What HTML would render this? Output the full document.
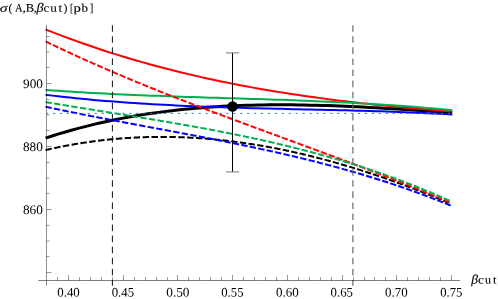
<!DOCTYPE html>
<html><head><meta charset="utf-8"><title>plot</title>
<style>
html,body{margin:0;padding:0;background:#fff;}
body{width:498px;height:299px;overflow:hidden;font-family:"Liberation Serif",serif;}
svg{display:block;}
text{font-family:"Liberation Serif",serif;fill:#000;}
</style></head><body>
<svg width="498" height="299" viewBox="0 0 498 299">
<rect width="498" height="299" fill="#fff"/>
<!-- curves -->
<g fill="none" stroke-linejoin="round">
<path d="M47.0,137.64 L52.9,135.76 L58.7,133.94 L64.6,132.19 L70.4,130.51 L76.3,128.89 L82.1,127.34 L88.0,125.84 L93.8,124.41 L99.7,123.04 L105.5,121.73 L111.4,120.47 L117.2,119.27 L123.1,118.13 L128.9,117.04 L134.8,116.01 L140.6,115.03 L146.5,114.10 L152.3,113.22 L158.2,112.40 L164.0,111.62 L169.9,110.89 L175.7,110.20 L181.6,109.57 L187.4,108.97 L193.3,108.43 L199.1,107.92 L205.0,107.46 L210.8,107.03 L216.7,106.65 L222.5,106.31 L228.4,106.00 L234.2,105.73 L240.1,105.50 L245.9,105.30 L251.8,105.14 L257.6,105.00 L263.5,104.90 L269.3,104.84 L275.2,104.80 L281.0,104.79 L286.9,104.80 L292.7,104.85 L298.6,104.92 L304.4,105.02 L310.3,105.13 L316.1,105.28 L322.0,105.44 L327.8,105.62 L333.7,105.83 L339.5,106.05 L345.4,106.29 L351.2,106.55 L357.1,106.82 L362.9,107.11 L368.8,107.41 L374.6,107.73 L380.5,108.06 L386.3,108.39 L392.2,108.74 L398.0,109.10 L403.9,109.46 L409.7,109.83 L415.6,110.21 L421.4,110.59 L427.3,110.97 L433.1,111.36 L439.0,111.75 L444.8,112.14 L450.7,112.53" stroke="#000" stroke-width="3" stroke-linecap="square"/>
<path d="M46.5,29.86 L52.4,32.16 L58.2,34.42 L64.1,36.63 L70.0,38.81 L75.8,40.93 L81.7,43.02 L87.6,45.06 L93.4,47.06 L99.3,49.02 L105.2,50.94 L111.0,52.83 L116.9,54.67 L122.8,56.47 L128.6,58.23 L134.5,59.96 L140.4,61.65 L146.2,63.30 L152.1,64.92 L158.0,66.50 L163.8,68.04 L169.7,69.56 L175.6,71.03 L181.4,72.48 L187.3,73.89 L193.2,75.26 L199.0,76.61 L204.9,77.92 L210.8,79.20 L216.6,80.46 L222.5,81.68 L228.4,82.87 L234.2,84.04 L240.1,85.17 L246.0,86.28 L251.8,87.36 L257.7,88.41 L263.6,89.44 L269.4,90.44 L275.3,91.42 L281.2,92.37 L287.0,93.30 L292.9,94.20 L298.8,95.08 L304.6,95.94 L310.5,96.77 L316.4,97.58 L322.2,98.38 L328.1,99.15 L334.0,99.90 L339.8,100.63 L345.7,101.34 L351.6,102.04 L357.4,102.71 L363.3,103.37 L369.2,104.01 L375.0,104.64 L380.9,105.25 L386.8,105.84 L392.6,106.42 L398.5,106.99 L404.4,107.54 L410.2,108.07 L416.1,108.60 L422.0,109.11 L427.8,109.61 L433.7,110.10 L439.6,110.58 L445.4,111.05 L451.3,111.51" stroke="#ff0000" stroke-width="2" stroke-linecap="square"/>
<path d="M46.5,90.01 L52.4,90.43 L58.2,90.84 L64.1,91.23 L70.0,91.61 L75.8,91.97 L81.7,92.32 L87.6,92.66 L93.4,92.98 L99.3,93.29 L105.2,93.59 L111.0,93.88 L116.9,94.16 L122.8,94.43 L128.6,94.69 L134.5,94.94 L140.4,95.18 L146.2,95.41 L152.1,95.64 L158.0,95.86 L163.8,96.07 L169.7,96.28 L175.6,96.48 L181.4,96.68 L187.3,96.88 L193.2,97.07 L199.0,97.26 L204.9,97.44 L210.8,97.63 L216.6,97.81 L222.5,97.99 L228.4,98.17 L234.2,98.35 L240.1,98.53 L246.0,98.72 L251.8,98.90 L257.7,99.09 L263.6,99.28 L269.4,99.47 L275.3,99.67 L281.2,99.87 L287.0,100.08 L292.9,100.29 L298.8,100.51 L304.6,100.74 L310.5,100.97 L316.4,101.21 L322.2,101.46 L328.1,101.72 L334.0,101.98 L339.8,102.26 L345.7,102.55 L351.6,102.84 L357.4,103.15 L363.3,103.47 L369.2,103.81 L375.0,104.15 L380.9,104.52 L386.8,104.89 L392.6,105.28 L398.5,105.68 L404.4,106.10 L410.2,106.54 L416.1,106.99 L422.0,107.46 L427.8,107.95 L433.7,108.46 L439.6,108.98 L445.4,109.53 L451.3,110.09" stroke="#00b050" stroke-width="2" stroke-linecap="square"/>
<path d="M46.5,94.92 L52.4,95.63 L58.2,96.31 L64.1,96.97 L70.0,97.60 L75.8,98.21 L81.7,98.79 L87.6,99.35 L93.4,99.89 L99.3,100.41 L105.2,100.90 L111.0,101.37 L116.9,101.83 L122.8,102.26 L128.6,102.68 L134.5,103.08 L140.4,103.46 L146.2,103.82 L152.1,104.16 L158.0,104.49 L163.8,104.81 L169.7,105.11 L175.6,105.40 L181.4,105.67 L187.3,105.93 L193.2,106.18 L199.0,106.42 L204.9,106.64 L210.8,106.86 L216.6,107.06 L222.5,107.26 L228.4,107.45 L234.2,107.63 L240.1,107.80 L246.0,107.97 L251.8,108.13 L257.7,108.28 L263.6,108.43 L269.4,108.58 L275.3,108.72 L281.2,108.86 L287.0,108.99 L292.9,109.13 L298.8,109.26 L304.6,109.40 L310.5,109.53 L316.4,109.66 L322.2,109.80 L328.1,109.93 L334.0,110.07 L339.8,110.22 L345.7,110.36 L351.6,110.51 L357.4,110.67 L363.3,110.83 L369.2,111.00 L375.0,111.17 L380.9,111.35 L386.8,111.54 L392.6,111.74 L398.5,111.95 L404.4,112.16 L410.2,112.39 L416.1,112.63 L422.0,112.88 L427.8,113.14 L433.7,113.42 L439.6,113.70 L445.4,114.01 L451.3,114.33" stroke="#0000ff" stroke-width="2" stroke-linecap="square"/>
<path d="M46.5,149.83 L47.4,149.63 L48.2,149.44 L49.1,149.24 L50.0,149.05 L50.8,148.86 M55.1,147.92 L56.0,147.73 L56.9,147.55 L57.7,147.37 L58.6,147.19 L59.5,147.02 M63.8,146.15 L64.7,145.99 L65.6,145.82 L66.5,145.65 L67.3,145.49 L68.2,145.33 M72.6,144.54 L73.5,144.39 L74.3,144.24 L75.2,144.09 L76.1,143.94 L77.0,143.79 M81.4,143.08 L82.2,142.94 L83.1,142.81 L84.0,142.67 L84.9,142.54 L85.8,142.41 M90.2,141.78 L91.1,141.65 L92.0,141.53 L92.8,141.41 L93.7,141.30 L94.6,141.18 M99.0,140.63 L99.9,140.52 L100.8,140.41 L101.7,140.31 L102.6,140.21 L103.5,140.11 M107.9,139.63 L108.8,139.54 L109.7,139.45 L110.6,139.36 L111.5,139.28 L112.4,139.19 M116.8,138.79 L117.7,138.72 L118.6,138.64 L119.5,138.57 L120.4,138.50 L121.3,138.43 M125.7,138.11 L126.6,138.05 L127.5,137.99 L128.4,137.94 L129.3,137.88 L130.2,137.83 M134.7,137.58 L135.5,137.54 L136.4,137.49 L137.3,137.45 L138.2,137.41 L139.1,137.37 M143.6,137.21 L144.5,137.18 L145.4,137.15 L146.3,137.12 L147.2,137.10 L148.1,137.07 M152.5,136.98 L153.4,136.97 L154.3,136.95 L155.2,136.94 L156.1,136.93 L157.0,136.93 M161.4,136.91 L162.3,136.91 L163.2,136.91 L164.1,136.91 L165.0,136.92 L165.9,136.92 M170.4,136.98 L171.2,137.00 L172.1,137.01 L173.0,137.03 L173.9,137.05 L174.8,137.07 M179.3,137.20 L180.1,137.23 L181.0,137.26 L181.9,137.29 L182.8,137.32 L183.7,137.36 M188.1,137.56 L189.0,137.60 L189.9,137.65 L190.8,137.69 L191.7,137.74 L192.6,137.79 M197.0,138.06 L197.9,138.11 L198.8,138.17 L199.7,138.23 L200.5,138.30 L201.4,138.36 M205.8,138.69 L206.7,138.76 L207.6,138.84 L208.5,138.91 L209.4,138.98 L210.2,139.06 M214.6,139.46 L215.5,139.55 L216.4,139.63 L217.3,139.72 L218.2,139.80 L219.0,139.89 M223.4,140.36 L224.3,140.46 L225.2,140.55 L226.0,140.65 L226.9,140.75 L227.8,140.85 M232.2,141.38 L233.0,141.49 L233.9,141.60 L234.8,141.71 L235.6,141.83 L236.5,141.94 M240.9,142.53 L241.7,142.65 L242.6,142.77 L243.5,142.89 L244.3,143.02 L245.2,143.14 M249.5,143.79 L250.4,143.92 L251.3,144.06 L252.1,144.19 L253.0,144.33 L253.8,144.47 M258.2,145.17 L259.0,145.31 L259.9,145.46 L260.7,145.61 L261.6,145.75 L262.4,145.90 M266.7,146.66 L267.6,146.81 L268.4,146.97 L269.3,147.13 L270.2,147.29 L271.0,147.44 M275.3,148.26 L276.1,148.42 L277.0,148.59 L277.8,148.76 L278.7,148.92 L279.5,149.09 M283.8,149.96 L284.6,150.13 L285.5,150.31 L286.3,150.49 L287.2,150.67 L288.0,150.85 M292.2,151.76 L293.1,151.94 L293.9,152.13 L294.7,152.32 L295.6,152.51 L296.4,152.70 M300.6,153.66 L301.5,153.85 L302.3,154.05 L303.1,154.24 L304.0,154.44 L304.8,154.64 M309.0,155.65 L309.8,155.85 L310.6,156.06 L311.5,156.26 L312.3,156.47 L313.1,156.68 M317.3,157.73 L318.1,157.94 L318.9,158.16 L319.8,158.37 L320.6,158.59 L321.4,158.80 M325.6,159.90 L326.4,160.12 L327.2,160.34 L328.0,160.56 L328.8,160.79 L329.7,161.01 M333.8,162.15 L334.6,162.38 L335.4,162.61 L336.2,162.84 L337.0,163.07 L337.9,163.30 M341.9,164.48 L342.8,164.72 L343.6,164.95 L344.4,165.19 L345.2,165.43 L346.0,165.67 M350.1,166.89 L350.9,167.13 L351.7,167.38 L352.5,167.63 L353.3,167.87 L354.1,168.12 M358.1,169.37 L358.9,169.62 L359.7,169.88 L360.5,170.13 L361.3,170.38 L362.2,170.64 M366.2,171.93 L367.0,172.18 L367.8,172.44 L368.6,172.71 L369.4,172.97 L370.2,173.23 M374.1,174.55 L374.9,174.82 L375.7,175.08 L376.5,175.35 L377.3,175.62 L378.1,175.89 M382.1,177.24 L382.9,177.51 L383.7,177.78 L384.5,178.06 L385.2,178.33 L386.0,178.61 M390.0,179.99 L390.8,180.27 L391.5,180.55 L392.3,180.83 L393.1,181.11 L393.9,181.39 M397.8,182.81 L398.6,183.09 L399.4,183.38 L400.2,183.66 L400.9,183.95 L401.7,184.24 M405.6,185.68 L406.4,185.97 L407.2,186.26 L408.0,186.55 L408.7,186.85 L409.5,187.14 M413.4,188.61 L414.2,188.91 L414.9,189.20 L415.7,189.50 L416.5,189.80 L417.2,190.10 M421.1,191.60 L421.9,191.90 L422.6,192.20 L423.4,192.50 L424.2,192.81 L424.9,193.11 M428.8,194.63 L429.5,194.94 L430.3,195.25 L431.1,195.56 L431.8,195.86 L432.6,196.17 M436.4,197.72 L437.2,198.03 L437.9,198.35 L438.7,198.66 L439.5,198.97 L440.2,199.29 M444.0,200.86 L444.8,201.18 L445.5,201.49 L446.3,201.81 L447.0,202.13 L447.8,202.45" stroke="#000" stroke-width="2" stroke-linecap="square"/>
<path d="M46.5,41.85 L47.2,42.20 L48.0,42.56 L48.7,42.91 L49.4,43.26 L50.1,43.61 M53.8,45.35 L54.5,45.70 L55.2,46.04 L56.0,46.39 L56.7,46.74 L57.4,47.08 M61.1,48.81 L61.8,49.15 L62.6,49.50 L63.3,49.84 L64.0,50.18 L64.8,50.53 M68.4,52.24 L69.2,52.58 L69.9,52.92 L70.6,53.26 L71.4,53.60 L72.1,53.94 M75.8,55.63 L76.5,55.96 L77.3,56.30 L78.0,56.64 L78.8,56.97 L79.5,57.31 M83.2,58.99 L84.0,59.32 L84.7,59.65 L85.4,59.99 L86.2,60.32 L86.9,60.65 M90.6,62.31 L91.4,62.64 L92.1,62.97 L92.9,63.30 L93.6,63.63 L94.4,63.96 M98.1,65.60 L98.9,65.93 L99.6,66.26 L100.3,66.59 L101.1,66.91 L101.8,67.24 M105.6,68.87 L106.3,69.19 L107.1,69.51 L107.8,69.84 L108.6,70.16 L109.3,70.49 M113.1,72.10 L113.9,72.42 L114.6,72.74 L115.4,73.06 L116.1,73.38 L116.9,73.70 M120.7,75.30 L121.4,75.62 L122.2,75.94 L122.9,76.26 L123.7,76.57 L124.4,76.89 M128.2,78.47 L129.0,78.79 L129.7,79.11 L130.5,79.42 L131.3,79.74 L132.0,80.05 M135.8,81.62 L136.6,81.93 L137.3,82.25 L138.1,82.56 L138.8,82.87 L139.6,83.18 M143.4,84.74 L144.2,85.05 L144.9,85.36 L145.7,85.67 L146.5,85.98 L147.2,86.29 M151.0,87.83 L151.8,88.14 L152.6,88.45 L153.3,88.76 L154.1,89.06 L154.9,89.37 M158.7,90.90 L159.5,91.21 L160.2,91.52 L161.0,91.82 L161.8,92.13 L162.5,92.43 M166.4,93.95 L167.1,94.25 L167.9,94.56 L168.7,94.86 L169.4,95.16 L170.2,95.47 M174.1,96.98 L174.8,97.28 L175.6,97.58 L176.4,97.88 L177.1,98.18 L177.9,98.48 M181.8,99.98 L182.5,100.28 L183.3,100.58 L184.1,100.88 L184.8,101.18 L185.6,101.48 M189.5,102.97 L190.3,103.26 L191.0,103.56 L191.8,103.86 L192.6,104.16 L193.3,104.45 M197.2,105.93 L198.0,106.23 L198.8,106.53 L199.5,106.82 L200.3,107.12 L201.1,107.41 M205.0,108.88 L205.7,109.18 L206.5,109.47 L207.3,109.77 L208.1,110.06 L208.8,110.35 M212.7,111.82 L213.5,112.11 L214.3,112.41 L215.0,112.70 L215.8,112.99 L216.6,113.28 M220.5,114.74 L221.3,115.03 L222.0,115.33 L222.8,115.62 L223.6,115.91 L224.4,116.20 M228.3,117.65 L229.0,117.94 L229.8,118.23 L230.6,118.52 L231.4,118.81 L232.1,119.10 M236.0,120.55 L236.8,120.84 L237.6,121.13 L238.4,121.42 L239.2,121.71 L239.9,122.00 M243.8,123.44 L244.6,123.73 L245.4,124.02 L246.2,124.31 L247.0,124.60 L247.7,124.88 M251.6,126.33 L252.4,126.61 L253.2,126.90 L254.0,127.19 L254.7,127.48 L255.5,127.76 M259.4,129.20 L260.2,129.49 L261.0,129.78 L261.8,130.06 L262.6,130.35 L263.3,130.64 M267.2,132.07 L268.0,132.36 L268.8,132.65 L269.6,132.93 L270.4,133.22 L271.1,133.51 M275.0,134.94 L275.8,135.23 L276.6,135.52 L277.4,135.80 L278.2,136.09 L278.9,136.38 M282.9,137.81 L283.6,138.10 L284.4,138.38 L285.2,138.67 L286.0,138.96 L286.8,139.24 M290.7,140.68 L291.4,140.96 L292.2,141.25 L293.0,141.54 L293.8,141.82 L294.6,142.11 M298.5,143.55 L299.2,143.83 L300.0,144.12 L300.8,144.41 L301.6,144.69 L302.4,144.98 M306.3,146.42 L307.1,146.71 L307.8,146.99 L308.6,147.28 L309.4,147.57 L310.2,147.86 M314.1,149.30 L314.9,149.58 L315.6,149.87 L316.4,150.16 L317.2,150.45 L318.0,150.74 M321.9,152.18 L322.7,152.47 L323.4,152.76 L324.2,153.05 L325.0,153.34 L325.8,153.62 M329.7,155.07 L330.4,155.36 L331.2,155.65 L332.0,155.94 L332.8,156.23 L333.6,156.52 M337.4,157.97 L338.2,158.26 L339.0,158.55 L339.8,158.85 L340.6,159.14 L341.3,159.43 M345.2,160.89 L346.0,161.18 L346.8,161.47 L347.6,161.76 L348.3,162.05 L349.1,162.35 M353.0,163.81 L353.8,164.10 L354.5,164.40 L355.3,164.69 L356.1,164.98 L356.9,165.28 M360.7,166.75 L361.5,167.04 L362.3,167.34 L363.1,167.63 L363.8,167.93 L364.6,168.22 M368.5,169.70 L369.3,170.00 L370.0,170.29 L370.8,170.59 L371.6,170.89 L372.4,171.19 M376.2,172.67 L377.0,172.97 L377.8,173.27 L378.5,173.57 L379.3,173.87 L380.1,174.16 M383.9,175.66 L384.7,175.96 L385.5,176.26 L386.2,176.56 L387.0,176.86 L387.8,177.16 M391.6,178.67 L392.4,178.97 L393.2,179.27 L393.9,179.58 L394.7,179.88 L395.5,180.18 M399.3,181.70 L400.1,182.00 L400.8,182.31 L401.6,182.61 L402.4,182.92 L403.1,183.22 M407.0,184.75 L407.7,185.06 L408.5,185.36 L409.3,185.67 L410.0,185.98 L410.8,186.28 M414.6,187.82 L415.4,188.13 L416.2,188.44 L416.9,188.75 L417.7,189.06 L418.4,189.37 M422.3,190.92 L423.0,191.23 L423.8,191.55 L424.5,191.86 L425.3,192.17 L426.1,192.48 M429.9,194.05 L430.6,194.36 L431.4,194.67 L432.1,194.99 L432.9,195.30 L433.7,195.62 M437.4,197.20 L438.2,197.51 L439.0,197.83 L439.7,198.15 L440.5,198.47 L441.2,198.78 M445.0,200.38 L445.8,200.70 L446.5,201.02 L447.3,201.34 L448.0,201.66 L448.8,201.98" stroke="#ff0000" stroke-width="2" stroke-linecap="square"/>
<path d="M46.5,102.25 L47.4,102.39 L48.2,102.53 L49.1,102.68 L49.9,102.82 L50.8,102.96 M55.1,103.68 L56.0,103.82 L56.8,103.96 L57.7,104.11 L58.5,104.25 L59.4,104.39 M63.7,105.10 L64.6,105.24 L65.4,105.38 L66.3,105.52 L67.2,105.66 L68.0,105.80 M72.3,106.50 L73.2,106.64 L74.1,106.78 L74.9,106.92 L75.8,107.06 L76.6,107.20 M81.0,107.89 L81.8,108.03 L82.7,108.17 L83.5,108.31 L84.4,108.45 L85.3,108.59 M89.6,109.28 L90.4,109.42 L91.3,109.56 L92.2,109.70 L93.0,109.83 L93.9,109.97 M98.2,110.66 L99.1,110.80 L99.9,110.94 L100.8,111.08 L101.6,111.21 L102.5,111.35 M106.8,112.04 L107.7,112.18 L108.5,112.32 L109.4,112.46 L110.3,112.60 L111.1,112.73 M115.4,113.42 L116.3,113.56 L117.2,113.70 L118.0,113.84 L118.9,113.98 L119.8,114.12 M124.1,114.81 L124.9,114.95 L125.8,115.09 L126.7,115.23 L127.5,115.37 L128.4,115.51 M132.7,116.20 L133.6,116.34 L134.4,116.48 L135.3,116.62 L136.1,116.76 L137.0,116.91 M141.3,117.61 L142.2,117.75 L143.0,117.89 L143.9,118.03 L144.8,118.17 L145.6,118.32 M149.9,119.03 L150.8,119.17 L151.6,119.31 L152.5,119.45 L153.4,119.60 L154.2,119.74 M158.5,120.46 L159.4,120.60 L160.2,120.75 L161.1,120.89 L162.0,121.04 L162.8,121.18 M167.1,121.91 L168.0,122.06 L168.8,122.20 L169.7,122.35 L170.6,122.50 L171.4,122.64 M175.7,123.38 L176.6,123.53 L177.4,123.68 L178.3,123.83 L179.1,123.98 L180.0,124.13 M184.3,124.88 L185.1,125.03 L186.0,125.18 L186.9,125.34 L187.7,125.49 L188.6,125.64 M192.9,126.41 L193.7,126.56 L194.6,126.72 L195.4,126.87 L196.3,127.03 L197.1,127.18 M201.4,127.96 L202.3,128.12 L203.1,128.28 L204.0,128.44 L204.8,128.59 L205.7,128.75 M210.0,129.55 L210.8,129.71 L211.7,129.87 L212.5,130.03 L213.4,130.20 L214.2,130.36 M218.5,131.17 L219.3,131.34 L220.2,131.50 L221.0,131.67 L221.9,131.83 L222.7,132.00 M227.0,132.83 L227.9,133.00 L228.7,133.17 L229.6,133.34 L230.4,133.51 L231.3,133.68 M235.5,134.54 L236.3,134.71 L237.2,134.88 L238.0,135.05 L238.9,135.23 L239.7,135.40 M244.0,136.28 L244.8,136.46 L245.7,136.63 L246.5,136.81 L247.4,136.99 L248.2,137.17 M252.4,138.07 L253.3,138.25 L254.1,138.43 L255.0,138.61 L255.8,138.80 L256.6,138.98 M260.9,139.90 L261.7,140.09 L262.5,140.28 L263.4,140.47 L264.2,140.65 L265.1,140.84 M269.3,141.79 L270.1,141.98 L270.9,142.17 L271.8,142.37 L272.6,142.56 L273.5,142.75 M277.7,143.73 L278.5,143.92 L279.3,144.12 L280.2,144.32 L281.0,144.52 L281.8,144.71 M286.0,145.72 L286.8,145.92 L287.7,146.12 L288.5,146.32 L289.3,146.53 L290.2,146.73 M294.3,147.76 L295.2,147.97 L296.0,148.18 L296.8,148.39 L297.7,148.60 L298.5,148.81 M302.6,149.86 L303.5,150.08 L304.3,150.29 L305.1,150.51 L306.0,150.72 L306.8,150.94 M310.9,152.02 L311.7,152.24 L312.6,152.46 L313.4,152.68 L314.2,152.91 L315.0,153.13 M319.1,154.24 L320.0,154.47 L320.8,154.70 L321.6,154.92 L322.4,155.15 L323.2,155.38 M327.3,156.53 L328.2,156.76 L329.0,156.99 L329.8,157.22 L330.6,157.46 L331.4,157.69 M335.5,158.87 L336.3,159.11 L337.1,159.35 L337.9,159.59 L338.8,159.83 L339.6,160.07 M343.6,161.28 L344.4,161.52 L345.2,161.77 L346.1,162.01 L346.9,162.26 L347.7,162.51 M351.7,163.75 L352.5,164.00 L353.3,164.25 L354.1,164.51 L354.9,164.76 L355.7,165.01 M359.7,166.29 L360.5,166.55 L361.3,166.81 L362.1,167.06 L362.9,167.32 L363.7,167.58 M367.7,168.89 L368.5,169.16 L369.3,169.42 L370.1,169.69 L370.9,169.95 L371.7,170.22 M375.7,171.57 L376.5,171.84 L377.3,172.11 L378.1,172.38 L378.9,172.65 L379.6,172.93 M383.6,174.30 L384.4,174.58 L385.2,174.86 L386.0,175.14 L386.7,175.42 L387.5,175.70 M391.4,177.11 L392.2,177.39 L393.0,177.68 L393.8,177.96 L394.6,178.25 L395.4,178.54 M399.2,179.98 L400.0,180.27 L400.8,180.57 L401.6,180.86 L402.4,181.15 L403.1,181.45 M407.0,182.93 L407.8,183.22 L408.5,183.52 L409.3,183.82 L410.1,184.12 L410.9,184.42 M414.7,185.94 L415.5,186.24 L416.2,186.55 L417.0,186.85 L417.8,187.16 L418.5,187.47 M422.3,189.01 L423.1,189.32 L423.9,189.64 L424.6,189.95 L425.4,190.26 L426.1,190.58 M429.9,192.16 L430.7,192.48 L431.4,192.80 L432.2,193.11 L433.0,193.43 L433.7,193.76 M437.5,195.37 L438.2,195.70 L439.0,196.02 L439.7,196.35 L440.5,196.67 L441.2,197.00 M444.9,198.65 L445.7,198.98 L446.4,199.31 L447.2,199.65 L447.9,199.98 L448.7,200.31" stroke="#00b050" stroke-width="2" stroke-linecap="square"/>
<path d="M46.5,106.95 L47.3,107.13 L48.2,107.31 L49.0,107.49 L49.9,107.67 L50.7,107.85 M55.0,108.74 L55.8,108.92 L56.6,109.10 L57.5,109.28 L58.3,109.45 L59.2,109.63 M63.4,110.51 L64.3,110.68 L65.1,110.85 L66.0,111.03 L66.8,111.20 L67.7,111.37 M71.9,112.24 L72.8,112.41 L73.6,112.58 L74.5,112.75 L75.3,112.92 L76.1,113.09 M80.4,113.94 L81.2,114.11 L82.1,114.28 L82.9,114.45 L83.8,114.62 L84.6,114.79 M88.9,115.62 L89.8,115.79 L90.6,115.96 L91.5,116.12 L92.3,116.29 L93.2,116.46 M97.4,117.28 L98.3,117.45 L99.1,117.61 L100.0,117.78 L100.8,117.94 L101.7,118.11 M105.9,118.93 L106.8,119.09 L107.6,119.25 L108.5,119.42 L109.3,119.58 L110.2,119.74 M114.5,120.55 L115.3,120.71 L116.2,120.88 L117.0,121.04 L117.9,121.20 L118.7,121.36 M123.0,122.17 L123.8,122.33 L124.7,122.49 L125.6,122.65 L126.4,122.81 L127.3,122.97 M131.5,123.77 L132.4,123.93 L133.2,124.09 L134.1,124.25 L134.9,124.41 L135.8,124.57 M140.1,125.37 L140.9,125.53 L141.8,125.69 L142.6,125.85 L143.5,126.01 L144.3,126.17 M148.6,126.96 L149.5,127.12 L150.3,127.28 L151.2,127.44 L152.0,127.60 L152.9,127.76 M157.2,128.56 L158.0,128.72 L158.9,128.87 L159.7,129.03 L160.6,129.19 L161.4,129.35 M165.7,130.15 L166.5,130.31 L167.4,130.47 L168.3,130.63 L169.1,130.79 L170.0,130.95 M174.2,131.75 L175.1,131.91 L175.9,132.07 L176.8,132.23 L177.6,132.39 L178.5,132.55 M182.8,133.36 L183.6,133.52 L184.5,133.68 L185.3,133.84 L186.2,134.00 L187.0,134.16 M191.3,134.97 L192.2,135.14 L193.0,135.30 L193.9,135.46 L194.7,135.62 L195.6,135.79 M199.8,136.60 L200.7,136.77 L201.5,136.93 L202.4,137.10 L203.2,137.26 L204.1,137.42 M208.3,138.25 L209.2,138.42 L210.0,138.58 L210.9,138.75 L211.8,138.91 L212.6,139.08 M216.9,139.92 L217.7,140.08 L218.6,140.25 L219.4,140.42 L220.3,140.59 L221.1,140.76 M225.4,141.60 L226.2,141.77 L227.1,141.94 L227.9,142.11 L228.8,142.28 L229.6,142.46 M233.8,143.31 L234.7,143.49 L235.5,143.66 L236.4,143.83 L237.2,144.01 L238.1,144.18 M242.3,145.05 L243.2,145.23 L244.0,145.40 L244.9,145.58 L245.7,145.76 L246.6,145.93 M250.8,146.82 L251.6,147.00 L252.5,147.18 L253.3,147.36 L254.2,147.54 L255.0,147.72 M259.2,148.62 L260.1,148.80 L260.9,148.99 L261.8,149.17 L262.6,149.35 L263.5,149.53 M267.7,150.46 L268.5,150.64 L269.4,150.83 L270.2,151.01 L271.0,151.20 L271.9,151.39 M276.1,152.33 L276.9,152.52 L277.8,152.71 L278.6,152.90 L279.5,153.09 L280.3,153.28 M284.5,154.24 L285.3,154.43 L286.2,154.63 L287.0,154.82 L287.8,155.02 L288.7,155.21 M292.9,156.20 L293.7,156.39 L294.5,156.59 L295.4,156.79 L296.2,156.99 L297.0,157.19 M301.2,158.19 L302.1,158.40 L302.9,158.60 L303.7,158.80 L304.6,159.00 L305.4,159.21 M309.6,160.24 L310.4,160.44 L311.2,160.65 L312.0,160.86 L312.9,161.07 L313.7,161.28 M317.9,162.33 L318.7,162.54 L319.5,162.75 L320.3,162.97 L321.2,163.18 L322.0,163.39 M326.1,164.47 L327.0,164.69 L327.8,164.91 L328.6,165.12 L329.4,165.34 L330.3,165.56 M334.4,166.67 L335.2,166.89 L336.0,167.11 L336.8,167.33 L337.7,167.56 L338.5,167.78 M342.6,168.91 L343.4,169.14 L344.2,169.37 L345.1,169.60 L345.9,169.83 L346.7,170.06 M350.8,171.22 L351.6,171.45 L352.4,171.68 L353.2,171.92 L354.0,172.15 L354.9,172.39 M358.9,173.58 L359.7,173.81 L360.6,174.05 L361.4,174.29 L362.2,174.53 L363.0,174.78 M367.1,175.99 L367.9,176.24 L368.7,176.48 L369.5,176.73 L370.3,176.98 L371.1,177.22 M375.1,178.47 L375.9,178.72 L376.7,178.97 L377.5,179.22 L378.4,179.48 L379.2,179.73 M383.2,181.01 L384.0,181.26 L384.8,181.52 L385.6,181.78 L386.4,182.04 L387.2,182.30 M391.2,183.60 L392.0,183.87 L392.8,184.13 L393.6,184.40 L394.4,184.66 L395.2,184.93 M399.1,186.27 L399.9,186.53 L400.7,186.80 L401.5,187.08 L402.3,187.35 L403.1,187.62 M407.0,188.99 L407.8,189.26 L408.6,189.54 L409.4,189.82 L410.2,190.10 L411.0,190.37 M414.9,191.78 L415.7,192.06 L416.5,192.34 L417.3,192.62 L418.0,192.91 L418.8,193.19 M422.7,194.63 L423.5,194.92 L424.3,195.20 L425.1,195.49 L425.8,195.79 L426.6,196.08 M430.5,197.54 L431.3,197.84 L432.0,198.13 L432.8,198.43 L433.6,198.73 L434.4,199.02 M438.2,200.52 L439.0,200.82 L439.8,201.13 L440.5,201.43 L441.3,201.73 L442.1,202.04 M445.9,203.57 L446.7,203.87 L447.4,204.18 L448.2,204.49 L448.9,204.80 L449.7,205.11" stroke="#0000ff" stroke-width="2" stroke-linecap="square"/>
</g>
<!-- dotted reference line -->
<path d="M46.5,113.4 H451.6" stroke="#3b80a6" stroke-width="1" stroke-dasharray="2.2 4.73" stroke-dashoffset="0.4" fill="none"/>
<!-- vertical dashed lines -->
<path d="M112.4,25.2 V285.8" stroke="#111" stroke-width="1" stroke-dasharray="6.6 4.474" fill="none"/>
<path d="M352.9,25.2 V285.8" stroke="#6a6a6a" stroke-width="1.2" stroke-dasharray="6.6 4.474" fill="none"/>
<!-- error bar + point -->
<path d="M232.5,52.9 V171.9" stroke="#000" stroke-width="1" fill="none"/>
<path d="M226,52.9 H239.2 M226,171.9 H239.2" stroke="#777" stroke-width="1" fill="none"/>
<circle cx="232.55" cy="106.45" r="5.25" fill="#000"/>
<!-- axes -->
<g stroke="#000" stroke-width="1" fill="none">
<path d="M38.2,280.5 H460.2" stroke-opacity="0.5"/>
<path d="M46.5,25 V285.8" stroke-opacity="0.45"/>
<path d="M57.5,277.1 V280.5 M68.5,275.0 V280.5 M79.5,277.1 V280.5 M90.5,277.1 V280.5 M101.5,277.1 V280.5 M112.5,277.1 V280.5 M123.5,275.0 V280.5 M134.5,277.1 V280.5 M145.5,277.1 V280.5 M156.5,277.1 V280.5 M167.5,277.1 V280.5 M177.5,275.0 V280.5 M188.5,277.1 V280.5 M199.5,277.1 V280.5 M210.5,277.1 V280.5 M221.5,277.1 V280.5 M232.5,275.0 V280.5 M243.5,277.1 V280.5 M254.5,277.1 V280.5 M265.5,277.1 V280.5 M276.5,277.1 V280.5 M287.5,275.0 V280.5 M298.5,277.1 V280.5 M309.5,277.1 V280.5 M320.5,277.1 V280.5 M331.5,277.1 V280.5 M342.5,275.0 V280.5 M353.5,277.1 V280.5 M364.5,277.1 V280.5 M374.5,277.1 V280.5 M385.5,277.1 V280.5 M396.5,275.0 V280.5 M407.5,277.1 V280.5 M418.5,277.1 V280.5 M429.5,277.1 V280.5 M440.5,277.1 V280.5 M451.5,275.0 V280.5 " stroke-opacity="0.42"/>
<path d="M46.5,272.5 h5 M46.5,256.5 h3 M46.5,241.0 h3 M46.5,225.5 h3 M46.5,209.5 h5 M46.5,193.5 h3 M46.5,178.0 h3 M46.5,162.5 h3 M46.5,146.5 h5 M46.5,130.5 h3 M46.5,115.0 h3 M46.5,99.5 h3 M46.5,83.5 h5 M46.5,67.5 h3 M46.5,52.0 h3 M46.5,36.5 h3 " stroke-opacity="0.4"/>
</g>
<g font-size="13px" style="filter:grayscale(1)"><text transform="translate(57.31,296.4) rotate(0.03) scale(0.9881,1)">0.40</text><text transform="translate(111.71,296.4) rotate(0.03) scale(0.9840,1)">0.45</text><text transform="translate(166.29,296.4) rotate(0.03) scale(1.0202,1)">0.50</text><text transform="translate(221.22,296.4) rotate(0.03) scale(0.9794,1)">0.55</text><text transform="translate(276.01,296.4) rotate(0.03) scale(0.9973,1)">0.60</text><text transform="translate(330.61,296.4) rotate(0.03) scale(0.9840,1)">0.65</text><text transform="translate(385.11,296.4) rotate(0.03) scale(0.9927,1)">0.70</text><text transform="translate(440.32,296.4) rotate(0.03) scale(0.9702,1)">0.75</text><text transform="translate(22.99,213.95) rotate(0.03) scale(1.0211,1)">860</text><text transform="translate(22.99,150.95) rotate(0.03) scale(1.0211,1)">880</text><text transform="translate(23.07,87.95) rotate(0.03) scale(1.0169,1)">900</text></g>
<g font-size="11.7px" stroke="#000" stroke-width="0.1" style="filter:grayscale(1)"><text transform="translate(-0.17,11.7) rotate(0.03) scale(1.346,1.0)" font-style="italic">σ</text><text transform="translate(8.49,11.7) rotate(0.03) scale(0.998,1.0)">(</text><text transform="translate(15.00,11.7) rotate(0.03) scale(0.909,1.0)">A</text><text transform="translate(22.49,11.7) rotate(0.03) scale(1.148,1.0)">,</text><text transform="translate(25.74,11.7) rotate(0.03) scale(1.073,1.0)">B</text><text transform="translate(33.87,11.7) rotate(0.03) scale(0.976,1.0)">,</text><text transform="translate(36.43,11.7) rotate(0.03) scale(1.200,1.08)" font-style="italic">β</text><text transform="translate(43.61,11.7) rotate(0.03) scale(1.094,1.0)">c</text><text transform="translate(50.23,11.7) rotate(0.03) scale(1.128,1.0)">u</text><text transform="translate(58.47,11.7) rotate(0.03) scale(1.141,1.0)">t</text><text transform="translate(63.62,11.7) rotate(0.03) scale(0.998,1.0)">)</text><text transform="translate(70.10,11.7) rotate(0.03) scale(0.806,1.0)">[</text><text transform="translate(73.56,11.7) rotate(0.03) scale(1.268,1.0)">p</text><text transform="translate(81.40,11.7) rotate(0.03) scale(1.110,1.0)">b</text><text transform="translate(89.71,11.7) rotate(0.03) scale(0.921,1.0)">]</text><text transform="translate(471.22,283.4) rotate(0.03) scale(1.150,1.08)" font-style="italic">β</text><text transform="translate(478.00,283.4) rotate(0.03) scale(1.117,1.0)">c</text><text transform="translate(485.04,283.4) rotate(0.03) scale(1.037,1.0)">u</text><text transform="translate(492.88,283.4) rotate(0.03) scale(1.076,1.0)">t</text></g>
</svg>
</body></html>
